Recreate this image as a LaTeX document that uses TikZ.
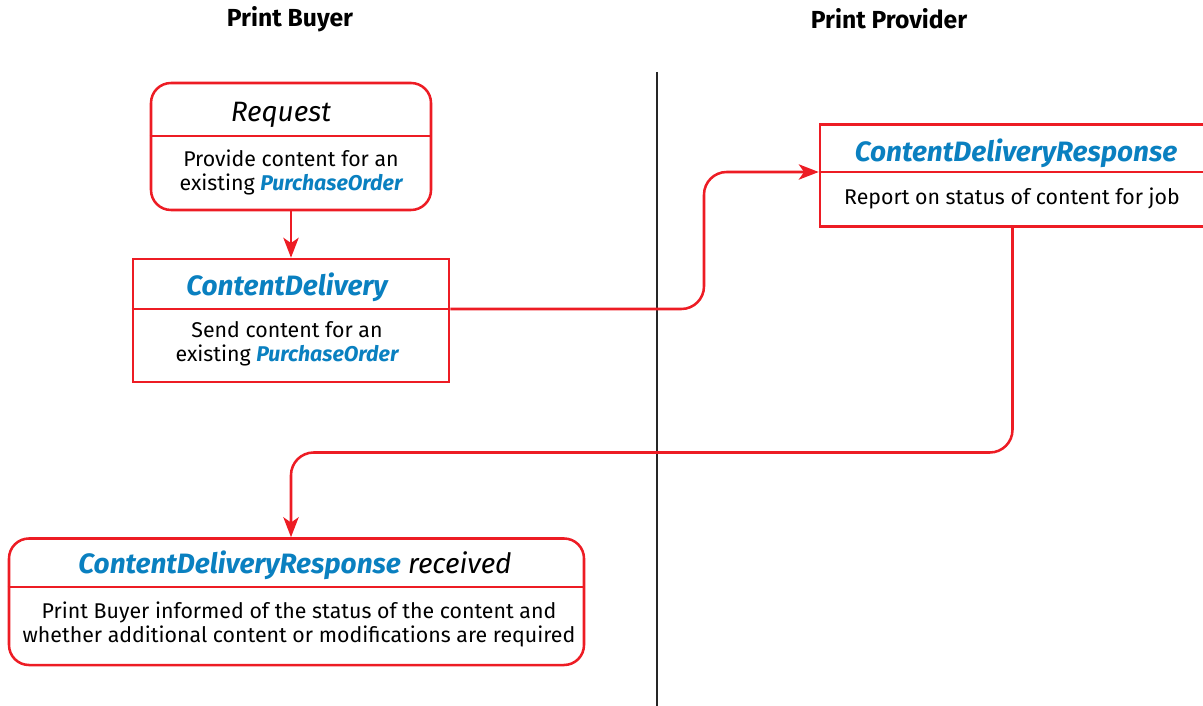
\documentclass[tikz,border=0pt]{standalone}
\usepackage{fontspec}
\setmainfont{Fira Sans}
\usepackage{xcolor}
\usetikzlibrary{arrows.meta}

\definecolor{flowred}{HTML}{ED1C24}
\definecolor{msgblue}{HTML}{0A80C0}
\newcommand{\msgname}[1]{\textcolor{msgblue}{\bfseries\itshape #1}}

\tikzset{
  box/.style={draw=flowred, line width=1.9pt, inner sep=0pt},
  rbox/.style={box, rounded corners=15pt},
  sep/.style={draw=flowred, line width=1.9pt},
  flow/.style={draw=flowred, line width=1.9pt, rounded corners=17pt,
    -{Stealth[length=15pt,width=11.5pt,inset=4pt]}},
  ttl/.style={font=\fontsize{21}{24}\selectfont},
  txt/.style={align=center, font=\fontsize{16}{18}\selectfont},
  lane/.style={font=\fontsize{18.5}{20}\selectfont\bfseries},
}

\begin{document}
\begin{tikzpicture}[x=0.75pt,y=-0.75pt]
  \useasboundingbox (0,0) rectangle (1203,706);
  % Lanes
  \node[lane] (buyer) at (290,19) {Print Buyer};
  \node[lane] (provider) at (889,19) {Print Provider};
  \draw[line width=1.9pt, black!85] (657,72) -- (657,706);
  % Request
  \node[rbox, minimum width=210pt, minimum height=95.25pt] (req) at (291,146.5) {};
  \coordinate (reqDiv) at (291,136);
  \draw[sep] (req.west |- reqDiv) -- (req.east |- reqDiv);
  \node[ttl] (reqT) at (281,115) {\itshape Request};
  \node[txt] (reqB) at (291,172) {Provide content for an\\existing \msgname{PurchaseOrder}};
  % ContentDelivery
  \node[box, minimum width=237pt, minimum height=92.25pt] (cd) at (291,320.5) {};
  \coordinate (cdDiv) at (291,309);
  \draw[sep] (cd.west |- cdDiv) -- (cd.east |- cdDiv);
  \node[ttl] (cdT) at (287,287.5) {\msgname{ContentDelivery}};
  \node[txt] (cdB) at (287,343.5) {Send content for an\\existing \msgname{PurchaseOrder}};
  % ContentDeliveryResponse
  \node[box, minimum width=288.75pt, minimum height=76.5pt] (cdr) at (1012.5,175.6) {};
  \coordinate (cdrDiv) at (1012.5,172);
  \draw[sep] (cdr.west |- cdrDiv) -- (cdr.east |- cdrDiv);
  \node[ttl] (cdrT) at (1016,153.5) {\msgname{ContentDeliveryResponse}};
  \node[txt] (cdrB) at (1012,198) {Report on status of content for job};
  % ContentDeliveryResponse received
  \node[rbox, minimum width=431.25pt, minimum height=94.9pt] (rcv) at (296.5,601.75) {};
  \coordinate (rcvDiv) at (296.5,587);
  \draw[sep] (rcv.west |- rcvDiv) -- (rcv.east |- rcvDiv);
  \node[ttl] (rcvT) at (295,565.5) {\msgname{ContentDeliveryResponse} \itshape received};
  \node[txt] (rcvB) at (299,624) {Print Buyer informed of the status of the content and\\whether additional content or modifications are required};
  % Flows
  \coordinate (bendA) at (704,240);
  \coordinate (bendB) at (650,452.5);
  \draw[flow] (req) -- (cd);
  \draw[flow] (cd.east |- cdDiv) -| (bendA) |- (cdr.west |- cdrDiv);
  \draw[flow] (cdr.south) |- (bendB) -| (rcv.north -| cd.south);
\end{tikzpicture}
\end{document}
